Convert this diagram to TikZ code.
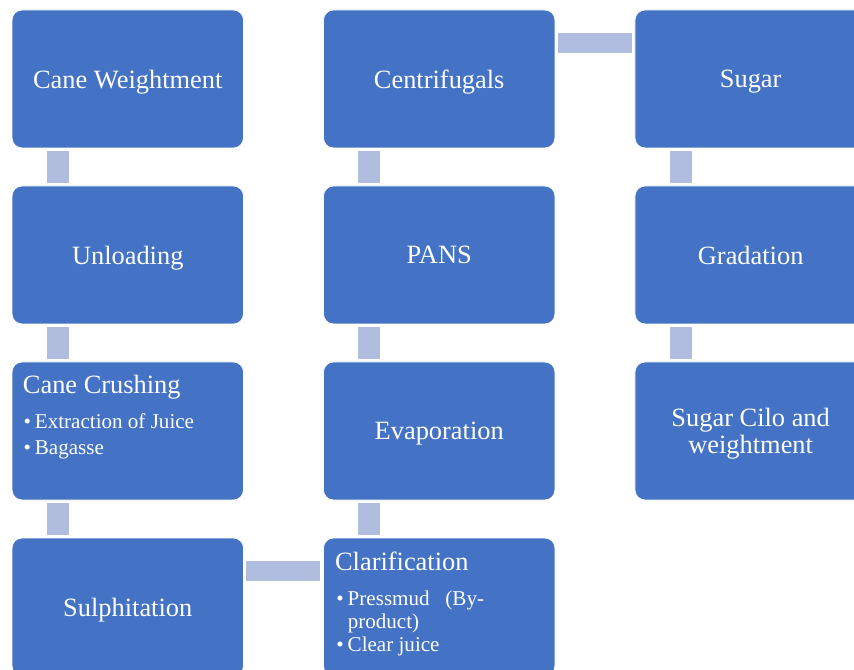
\documentclass[tikz,border=0pt]{standalone}
\usepackage{fontspec}
\setmainfont{Liberation Serif}
\usetikzlibrary{positioning}
\definecolor{stageblue}{HTML}{4472C4}
\definecolor{linkblue}{HTML}{B0BDDE}
\tikzset{
  stage/.style={fill=stageblue, draw=white, line width=0.6pt, rounded corners=7.5pt,
    minimum width=173.6pt, minimum height=103.5pt, inner sep=0pt, outer sep=0pt,
    text=white, align=center, text depth=0pt, font=\fontsize{19.8}{20}\selectfont},
  head/.style={text=white, inner sep=0pt, anchor=base west, font=\fontsize{19.8}{20}\selectfont},
  points/.style={text=white, inner sep=0pt, anchor=base west},
  link/.style={draw=linkblue, line width=16.5pt, shorten >=2.25pt, shorten <=2.25pt},
}
\newcommand{\bul}{\makebox[8.5pt][l]{\textbullet}}
\begin{document}
\begin{tikzpicture}[x=0.75pt, y=-0.75pt]
			%%%%% START %%%%%
			\useasboundingbox (0,0) rectangle (854,670);
			\clip (0,0) rectangle (854,670);
			
			\node[stage] (weigh) at (127.75, 79) {Cane Weightment};
			\node[stage, below=28.5pt of weigh] (unload) {Unloading};
			\node[stage, below=28.5pt of unload] (crush) {};
			\node[stage, below=28.5pt of crush] (sulph) {Sulphitation};
			
			\node[stage, right=60pt of weigh] (cent) {Centrifugals};
			\node[stage, below=28.5pt of cent] (pans) {PANS};
			\node[stage, below=28.5pt of pans] (evap) {Evaporation};
			\node[stage, below=28.5pt of evap] (clar) {};
			
			\node[stage, right=60pt of cent] (sugar) {Sugar};
			\node[stage, below=28.5pt of sugar] (grad) {Gradation};
			\node[stage, below=28.5pt of grad] (silo) {Sugar Cilo and\\weightment};
			
			\node[head] (crushhead) at ([shift={(8pt,-24pt)}]crush.north west) {Cane Crushing};
			\node[points] (crushlist) at ([shift={(8.5pt,-50pt)}]crush.north west)
			  {\fontsize{15.8}{19.5}\selectfont\begin{tabular}[t]{@{}l@{}}
			    \bul Extraction of Juice\\ \bul Bagasse\end{tabular}};
			
			\node[head] (clarhead) at ([shift={(8.5pt,-24pt)}]clar.north west) {Clarification};
			\node[points] (clarlist) at ([shift={(9.5pt,-50.25pt)}]clar.north west)
			  {\fontsize{15.8}{17.6}\selectfont\begin{tabular}[t]{@{}l@{}}
			    \bul Pressmud\ \ \ (By-\\ \hspace*{8.5pt}product)\\ \bul Clear juice\end{tabular}};
			
			\foreach \a/\b in {weigh/unload, unload/crush, crush/sulph,
			                   cent/pans, pans/evap, evap/clar,
			                   sugar/grad, grad/silo}
			  \draw[link] ([xshift=34.5pt]\a.south west) -- ([xshift=34.5pt]\b.north west);
			
			\draw[link, line width=15.5pt] ([yshift=-24.75pt]sulph.north east) -- ([yshift=-24.75pt]clar.north west);
			\draw[link, line width=15.5pt] ([yshift=-24.75pt]cent.north east) -- ([yshift=-24.75pt]sugar.north west);
			%%%%% END %%%%%
\end{tikzpicture}
\end{document}
